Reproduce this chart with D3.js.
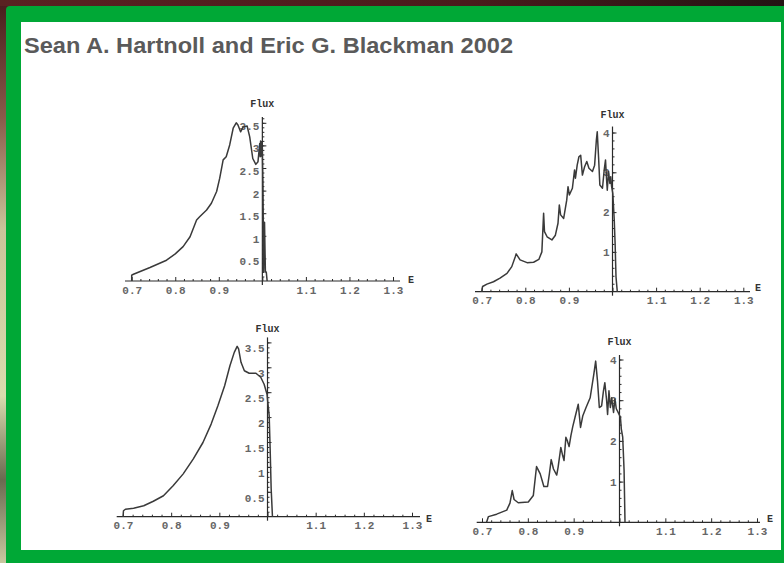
<!DOCTYPE html>
<html>
<head>
<meta charset="utf-8">
<script src="https://cdn.jsdelivr.net/npm/d3@7"></script>
<style>
  body { margin: 0; background: #2b1414; }
  svg { display: block; }
</style>
</head>
<body>
<svg id="chart" width="784" height="563"></svg>
<script>
// flux spectra (E, Flux)
var titleText = "Sean A. Hartnoll and Eric G. Blackman 2002";

var e1 = [0.700,0.700,0.704,0.742,0.780,0.800,0.818,0.834,0.849,0.856,0.872,0.883,0.895,0.902,0.910,0.917,0.925,0.933,0.940,0.944,0.950,0.956,0.965,0.971,0.978,0.985,0.990,0.994,0.995,0.996,0.997,0.998,0.999,1.000,1.0015,1.003,1.005,1.007,1.009,1.011];
var flux1 = [0,0.13,0.15,0.30,0.46,0.60,0.76,0.98,1.35,1.42,1.57,1.72,1.98,2.27,2.68,2.75,3.01,3.38,3.50,3.45,3.30,3.41,3.43,3.19,2.71,2.58,2.64,3.04,2.75,3.10,2.76,3.08,2.78,2.95,2.10,0.20,1.30,0.20,0.20,0];

var e2 = [0.700,0.702,0.712,0.727,0.742,0.758,0.769,0.777,0.779,0.788,0.804,0.819,0.831,0.838,0.842,0.844,0.850,0.861,0.869,0.875,0.878,0.881,0.888,0.895,0.898,0.901,0.908,0.913,0.915,0.919,0.923,0.927,0.931,0.936,0.941,0.946,0.954,0.959,0.963,0.965,0.968,0.971,0.977,0.981,0.984,0.986,0.988,0.991,0.994,0.996,0.998,1.0007,1.004,1.006,1.008,1.011];
var flux2 = [0,0.13,0.19,0.25,0.34,0.46,0.63,0.88,0.95,0.80,0.73,0.74,0.81,1.00,1.97,1.51,1.38,1.30,1.42,1.72,2.18,1.93,1.84,2.30,2.64,2.43,2.60,3.06,2.85,3.18,3.39,3.43,2.93,3.14,3.27,3.10,3.02,3.18,3.81,4.02,3.39,2.68,2.60,3.06,3.31,2.89,2.55,3.02,2.72,2.89,2.64,2.47,1.80,1.21,0.38,0];

var e3 = [0.700,0.701,0.705,0.722,0.743,0.763,0.784,0.804,0.825,0.846,0.866,0.883,0.897,0.911,0.922,0.931,0.937,0.940,0.945,0.952,0.962,0.976,0.986,0.993,0.999,1.001,1.0035,1.0055,1.0076,1.0103];
var flux3 = [0,0.12,0.15,0.17,0.22,0.31,0.42,0.62,0.86,1.16,1.49,1.86,2.23,2.63,3.03,3.30,3.42,3.37,3.10,2.93,2.88,2.88,2.80,2.66,2.46,2.26,2.03,1.36,0.56,0];

var e4 = [0.710,0.714,0.732,0.754,0.761,0.766,0.770,0.779,0.801,0.812,0.819,0.827,0.835,0.843,0.847,0.851,0.856,0.863,0.866,0.872,0.876,0.879,0.883,0.886,0.890,0.894,0.898,0.903,0.910,0.915,0.920,0.927,0.936,0.944,0.948,0.952,0.956,0.961,0.965,0.968,0.972,0.974,0.977,0.980,0.983,0.987,0.990,0.993,0.997,1.002,1.004,1.007,1.010,1.012];
var flux4 = [0,0.14,0.20,0.30,0.47,0.78,0.56,0.48,0.50,0.66,1.37,1.19,0.88,0.88,1.19,1.54,1.31,1.16,1.35,1.84,1.64,1.52,2.09,2.01,1.86,2.13,2.35,2.58,2.90,2.33,2.62,2.82,3.06,3.64,3.96,3.47,2.82,2.86,3.23,3.43,2.98,2.65,3.23,2.82,3.06,2.70,3.03,2.79,2.70,2.58,2.29,2.09,1.27,0];

var xMajor = [0.7,0.8,0.9,1.0,1.1,1.2,1.3];
var xLabels = ["0.7","0.8","0.9","","1.1","1.2","1.3"];
var yMajorA = [0.5,1,1.5,2,2.5,3,3.5];
var yMajorB = [1,2,3,4];

// layout of the four panels
var panels = [
    {e: e1, f: flux1, x07: 131.7, x13: 393, y0: 281, unit: 45.2, top: 3.63, axL: 125, axR: 400,
     yMajor: yMajorA, yMinor: 0.1, labDy: 3, fluxY: 104, eX: 411, eY: 283},
    {e: e2, f: flux2, x07: 481.7, x13: 743.3, y0: 291.7, unit: 39.8, top: 4.15, axL: 475, axR: 750,
     yMajor: yMajorB, yMinor: 0.2, labDy: 0, fluxY: 115, eX: 758, eY: 291},
    {e: e3, f: flux3, x07: 123, x13: 412, y0: 516.7, unit: 49.8, top: 3.6, axL: 116.7, axR: 420,
     yMajor: yMajorA, yMinor: 0.1, labDy: 6, fluxY: 329, eX: 429, eY: 522},
    {e: e4, f: flux4, x07: 482, x13: 757, y0: 522.3, unit: 40.7, top: 4.11, axL: 476.7, axR: 760,
     yMajor: yMajorB, yMinor: 0.2, labDy: 0, fluxY: 341.5, eX: 770, eY: 521.7}
];

var svg = d3.select("#chart");

// photo background peeking out around the frame
var defs = svg.append("defs");
var lg = defs.append("linearGradient").attr("id", "side")
    .attr("x1", 0).attr("y1", 0).attr("x2", 0).attr("y2", 1);
lg.append("stop").attr("offset", "0%").attr("stop-color", "#4a1e1e");
lg.append("stop").attr("offset", "20%").attr("stop-color", "#8a5a4a");
lg.append("stop").attr("offset", "40%").attr("stop-color", "#c9c49a");
lg.append("stop").attr("offset", "70%").attr("stop-color", "#d9dcae");
lg.append("stop").attr("offset", "85%").attr("stop-color", "#6a6a50");
lg.append("stop").attr("offset", "100%").attr("stop-color", "#c8c8a0");
var tg = defs.append("linearGradient").attr("id", "topbg")
    .attr("x1", 0).attr("y1", 0).attr("x2", 1).attr("y2", 0);
tg.append("stop").attr("offset", "0%").attr("stop-color", "#5a2222");
tg.append("stop").attr("offset", "60%").attr("stop-color", "#4a1c1c");
tg.append("stop").attr("offset", "100%").attr("stop-color", "#241414");

svg.append("rect").attr("width", 784).attr("height", 563).attr("fill", "url(#topbg)");
svg.append("rect").attr("y", 6).attr("width", 8).attr("height", 557).attr("fill", "url(#side)");

svg.append("rect").attr("x", 6).attr("y", 6).attr("width", 790).attr("height", 570)
    .attr("rx", 4).attr("fill", "#00a836");
svg.append("rect").attr("x", 21).attr("y", 22).attr("width", 760).attr("height", 528)
    .attr("fill", "#ffffff");

svg.append("text")
    .attr("x", 24).attr("y", 53)
    .attr("textLength", 489).attr("lengthAdjust", "spacingAndGlyphs")
    .style("font-family", "'Liberation Sans', Arial, sans-serif")
    .style("font-weight", "bold")
    .style("font-size", "22px")
    .attr("fill", "#5a5a5a")
    .text(titleText);

var mono = "'Liberation Mono', 'Courier New', monospace";

panels.forEach(function(p) {
    var x = d3.scaleLinear().domain([0.7, 1.3]).range([p.x07, p.x13]);
    var y = d3.scaleLinear().domain([0, 1]).range([p.y0, p.y0 - p.unit]);
    var g = svg.append("g");
    var ox = x(1.0), oy = y(0);

    // x axis line and ticks
    g.append("line").attr("x1", p.axL).attr("x2", p.axR).attr("y1", oy).attr("y2", oy)
        .attr("stroke", "#2a2a2a").attr("stroke-width", 1.2);
    var xMinor = d3.range(0.7, 1.3001, 0.02).filter(function(v) {
        return Math.abs(v * 10 - Math.round(v * 10)) > 1e-6;
    });
    g.append("g").attr("transform", "translate(0," + oy + ")")
        .call(d3.axisBottom(x).tickValues(xMinor).tickSize(-2).tickFormat(""))
        .call(function(s) { s.select(".domain").remove(); });
    var xa = g.append("g").attr("transform", "translate(0," + oy + ")")
        .call(d3.axisBottom(x).tickValues(xMajor).tickSize(-4).tickPadding(5)
              .tickFormat(function(d, i) { return xLabels[i]; }));
    xa.select(".domain").remove();

    // y axis line and ticks
    g.append("line").attr("x1", ox).attr("x2", ox).attr("y1", oy + 4).attr("y2", y(p.top))
        .attr("stroke", "#2a2a2a").attr("stroke-width", 1.2);
    var yMin = d3.range(p.yMinor, p.top, p.yMinor);
    g.append("g").attr("transform", "translate(" + ox + ",0)")
        .call(d3.axisLeft(y).tickValues(yMin).tickSize(-2).tickFormat(""))
        .call(function(s) { s.select(".domain").remove(); });
    var ya = g.append("g").attr("transform", "translate(" + ox + ",0)")
        .call(d3.axisLeft(y).tickValues(p.yMajor).tickSize(-4).tickPadding(3)
              .tickFormat(function(d) { return String(d); }));
    ya.select(".domain").remove();
    ya.selectAll("text").attr("dy", (0.32 + p.labDy / 11) + "em");

    g.selectAll(".tick line").attr("stroke", "#2a2a2a");
    g.selectAll(".tick text")
        .style("font-family", mono).style("font-size", "11px").style("font-weight", "bold")
        .attr("fill", "#666");

    // curve
    g.append("path")
        .datum(d3.zip(p.e, p.f))
        .attr("fill", "none")
        .attr("stroke", "#3a3a3a")
        .attr("stroke-width", 1.5)
        .attr("stroke-linejoin", "round")
        .attr("d", d3.line().x(function(d) { return x(d[0]); }).y(function(d) { return y(d[1]); }));

    // axis names
    g.append("text").attr("x", ox).attr("y", p.fluxY + 3).attr("text-anchor", "middle")
        .style("font-family", mono).style("font-size", "10px").style("font-weight", "bold")
        .attr("fill", "#333").text("Flux");
    g.append("text").attr("x", p.eX).attr("y", p.eY).attr("text-anchor", "middle")
        .style("font-family", mono).style("font-size", "10px").style("font-weight", "bold")
        .attr("fill", "#333").text("E");
});
</script>
</body>
</html>
